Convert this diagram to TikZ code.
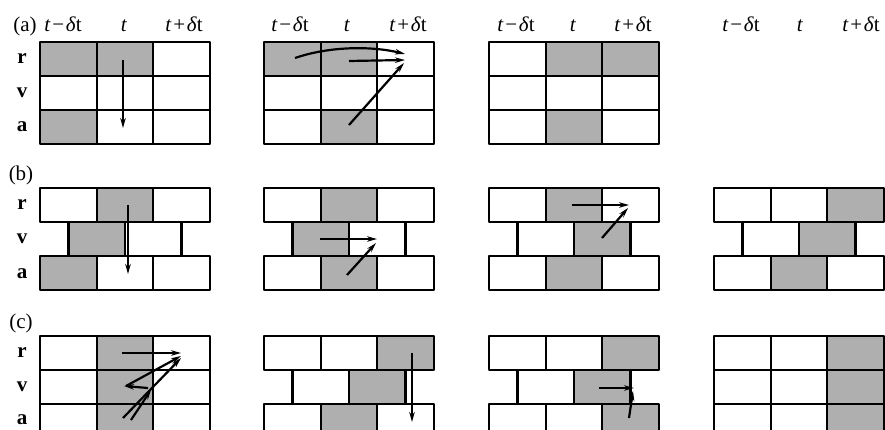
\documentclass[tikz,border=0pt]{standalone}
\usepackage{fontspec}
\setmainfont{Liberation Serif}
\usetikzlibrary{arrows.meta}
\definecolor{shd}{RGB}{175,175,175}
\newcommand\tmin{\textit{t}\hspace{0.08em}−\hspace{0.08em}\textit{δ}t}
\newcommand\tplus{\textit{t}\hspace{0.08em}+\hspace{0.08em}\textit{δ}t}
\newcommand\regulargrid{%
  \draw[gridl] (57,0)--(57,102) (113,0)--(113,102) (0,34)--(170,34) (0,68)--(170,68);
  \draw[outl] (0,0) rectangle (170,102);}
\newcommand\brickgrid{%
  \draw[gridl] (57,0)--(57,34) (113,0)--(113,34) (57,68)--(57,102) (113,68)--(113,102)
    (28.5,34)--(28.5,68) (85,34)--(85,68) (141.5,34)--(141.5,68);
  \draw[outl] (0,0) rectangle (170,34) (0,68) rectangle (170,102);}
\tikzset{
  shade/.style={fill=shd},
  gridl/.style={line width=2.2pt},
  outl/.style={line width=2.8pt, line join=round},
  arr/.style={line width=2.2pt, -{Stealth[length=10pt,width=5.5pt]}},
  every node/.style={font=\fontsize{21}{25}\selectfont, inner sep=0pt},
  hdr/.style={anchor=base},
  rowlab/.style={font=\fontsize{21}{25}\selectfont\bfseries}
}
\begin{document}
\begin{tikzpicture}[x=1pt,y=-1pt]
\useasboundingbox (0,0) rectangle (885,430);
\clip (0,0) rectangle (885,430);
\fill[white] (0,0) rectangle (885,430);

% ---------- labels ----------
\node[hdr] (la) at (25,32) {(a)};
\node[hdr] (lb) at (21,181) {(b)};
\node[hdr] (lc) at (21,328) {(c)};
\node[hdr] (h11) at (63,32) {\tmin};
\node[hdr] (h12) at (124,32) {\textit{t}};
\node[hdr] (h13) at (184,32) {\tplus};
\node[hdr] (h21) at (290,32) {\tmin};
\node[hdr] (h22) at (347,32) {\textit{t}};
\node[hdr] (h23) at (408,32) {\tplus};
\node[hdr] (h31) at (516,32) {\tmin};
\node[hdr] (h32) at (573,32) {\textit{t}};
\node[hdr] (h33) at (633,32) {\tplus};
\node[hdr] (h41) at (741,32) {\tmin};
\node[hdr] (h42) at (800,32) {\textit{t}};
\node[hdr] (h43) at (861,32) {\tplus};
\node[rowlab] (ra) at (22,59) {r};
\node[rowlab] (va) at (22,93) {v};
\node[rowlab] (aa) at (22,127) {a};
\node[rowlab] (rb) at (22,205) {r};
\node[rowlab] (vb) at (22,239) {v};
\node[rowlab] (ab) at (22,274) {a};
\node[rowlab] (rc) at (22,353) {r};
\node[rowlab] (vc) at (22,387) {v};
\node[rowlab] (ac) at (22,420) {a};

% ---------- row (a) ----------
\begin{scope}[shift={(40,42)}]
  \fill[shade] (0,0) rectangle (113,34) (0,68) rectangle (57,102);
  \regulargrid
\end{scope}
\begin{scope}[shift={(264,42)}]
  \fill[shade] (0,0) rectangle (113,34) (57,68) rectangle (113,102);
  \regulargrid
\end{scope}
\begin{scope}[shift={(489,42)}]
  \fill[shade] (57,0) rectangle (170,34) (57,68) rectangle (113,102);
  \regulargrid
\end{scope}

% ---------- row (b) ----------
\begin{scope}[shift={(40,188)}]
  \fill[shade] (57,0) rectangle (113,34) (28.5,34) rectangle (85,68) (0,68) rectangle (57,102);
  \brickgrid
\end{scope}
\begin{scope}[shift={(264,188)}]
  \fill[shade] (57,0) rectangle (113,34) (28.5,34) rectangle (85,68) (57,68) rectangle (113,102);
  \brickgrid
\end{scope}
\begin{scope}[shift={(489,188)}]
  \fill[shade] (57,0) rectangle (113,34) (85,34) rectangle (141.5,68) (57,68) rectangle (113,102);
  \brickgrid
\end{scope}
\begin{scope}[shift={(714,188)}]
  \fill[shade] (113,0) rectangle (170,34) (85,34) rectangle (141.5,68) (57,68) rectangle (113,102);
  \brickgrid
\end{scope}

% ---------- row (c) ----------
\begin{scope}[shift={(40,336)}]
  \fill[shade] (57,0) rectangle (113,102);
  \regulargrid
\end{scope}
\begin{scope}[shift={(264,336)}]
  \fill[shade] (113,0) rectangle (170,34) (85,34) rectangle (141.5,68) (57,68) rectangle (113,102);
  \brickgrid
\end{scope}
\begin{scope}[shift={(489,336)}]
  \fill[shade] (113,0) rectangle (170,34) (85,34) rectangle (141.5,68) (113,68) rectangle (170,102);
  \brickgrid
\end{scope}
\begin{scope}[shift={(714,336)}]
  \fill[shade] (113,0) rectangle (170,102);
  \regulargrid
\end{scope}

% ---------- arrow end points ----------
\coordinate (a1s) at (123,60);  \coordinate (a1e) at (123,128);
\coordinate (a2s1) at (295,58); \coordinate (a2e1) at (405,54);
\coordinate (a2s2) at (349,61); \coordinate (a2e2) at (405,60);
\coordinate (a2s3) at (349,125);\coordinate (a2e3) at (404,63);
\coordinate (b1s) at (128,205); \coordinate (b1e) at (128,274);
\coordinate (b2s1) at (320,239);\coordinate (b2e1) at (377,239);
\coordinate (b2s2) at (347,275);\coordinate (b2e2) at (376,243);
\coordinate (b3s1) at (572,205);\coordinate (b3e1) at (629,205);
\coordinate (b3s2) at (602,238);\coordinate (b3e2) at (628,208);
\coordinate (c1s1) at (122,353);\coordinate (c1e1) at (181,353);
\coordinate (c1s2) at (148,388);\coordinate (c1e2) at (124,386);
\coordinate (c1s3) at (126,386);\coordinate (c1e3) at (181,356);
\coordinate (c1s4) at (123,418);\coordinate (c1e4) at (181,358);
\coordinate (c1s5) at (131,420);\coordinate (c1e5) at (151,390);
\coordinate (c2s) at (412,353); \coordinate (c2e) at (412,422);
\coordinate (c3s1) at (599,388);\coordinate (c3e1) at (634,388);
\coordinate (c3s2) at (629,418);\coordinate (c3e2) at (633,391);

% ---------- arrows ----------
\draw[arr] (a1s) -- (a1e);
\draw[arr] (a2s1) .. controls (330,46) and (372,46) .. (a2e1);
\draw[arr] (a2s2) -- (a2e2);
\draw[arr] (a2s3) -- (a2e3);
\draw[arr] (b1s) -- (b1e);
\draw[arr] (b2s1) -- (b2e1);
\draw[arr] (b2s2) -- (b2e2);
\draw[arr] (b3s1) -- (b3e1);
\draw[arr] (b3s2) -- (b3e2);
\draw[arr] (c1s1) -- (c1e1);
\draw[arr] (c1s2) -- (c1e2);
\draw[arr] (c1s3) -- (c1e3);
\draw[arr] (c1s4) -- (c1e4);
\draw[arr] (c1s5) -- (c1e5);
\draw[arr] (c2s) -- (c2e);
\draw[arr] (c3s1) -- (c3e1);
\draw[arr] (c3s2) -- (c3e2);
\end{tikzpicture}
\end{document}
